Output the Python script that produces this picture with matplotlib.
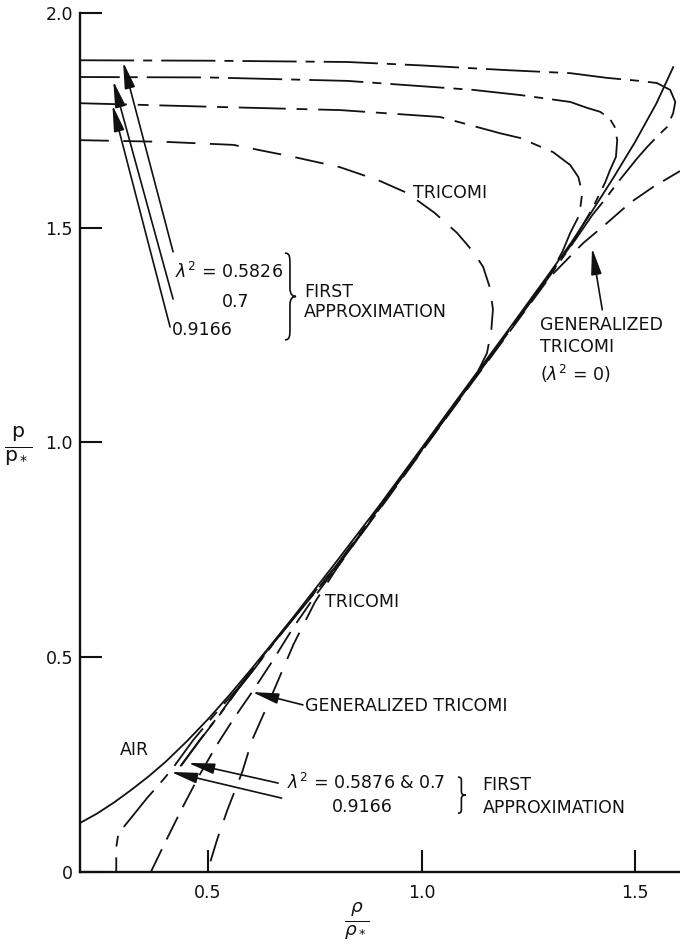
#!/usr/bin/env python3
"""Pressure-density curves: air vs Tricomi / first approximation gases."""

import matplotlib
matplotlib.use("Agg")
import matplotlib.pyplot as plt
from matplotlib.path import Path
import matplotlib.patches as patches

# ---- data (rho/rho*, p/p*) ----
air_x = [0.20, 0.24, 0.28, 0.32, 0.36, 0.40, 0.45, 0.50, 0.55, 0.60, 0.65, 0.70,
         0.75, 0.80, 0.90, 1.00, 1.10, 1.20, 1.30, 1.35, 1.40, 1.45, 1.50, 1.55, 1.59]
air_y = [0.114, 0.136, 0.162, 0.191, 0.222, 0.256, 0.304, 0.356, 0.412, 0.471, 0.532, 0.594,
         0.658, 0.722, 0.852, 0.987, 1.123, 1.258, 1.395, 1.465, 1.540, 1.618, 1.700, 1.790, 1.876]

tricomi_x = [0.20, 0.40, 0.559, 0.70, 0.809, 0.90, 0.966, 1.03, 1.083, 1.12, 1.144, 1.160,
             1.167, 1.163, 1.153, 1.130, 1.10, 1.00, 0.90, 0.85, 0.80, 0.75, 0.70, 0.64,
             0.603, 0.58, 0.545, 0.521, 0.498]
tricomi_y = [1.704, 1.700, 1.693, 1.665, 1.641, 1.610, 1.581, 1.535, 1.488, 1.445, 1.409, 1.360,
             1.310, 1.260, 1.208, 1.162, 1.117, 0.981, 0.844, 0.775, 0.705, 0.628, 0.530, 0.390,
             0.307, 0.233, 0.144, 0.075, 0.0]

gen_tricomi_x = [0.366, 0.40, 0.44, 0.48, 0.52, 0.56, 0.603, 0.65, 0.70, 0.75, 0.80, 0.90,
                 1.00, 1.10, 1.20, 1.30, 1.378, 1.434, 1.488, 1.542, 1.605]
gen_tricomi_y = [0.0, 0.070, 0.150, 0.226, 0.295, 0.357, 0.419, 0.490, 0.570, 0.642, 0.708, 0.842,
                 0.979, 1.115, 1.250, 1.385, 1.464, 1.511, 1.558, 1.595, 1.632]

# first approximation, lambda^2 = 0.5826
fa1_x = [0.20, 0.50, 0.826, 1.00, 1.20, 1.348, 1.434, 1.51, 1.551, 1.582, 1.594, 1.589,
         1.575, 1.551, 1.528, 1.505, 1.458, 1.434, 1.40, 1.35, 1.30, 1.20, 1.10, 1.00,
         0.90, 0.80, 0.70, 0.65, 0.61, 0.57, 0.53, 0.481, 0.435]
fa1_y = [1.890, 1.889, 1.886, 1.878, 1.867, 1.860, 1.849, 1.842, 1.837, 1.821, 1.793, 1.767,
         1.735, 1.712, 1.688, 1.662, 1.604, 1.572, 1.530, 1.458, 1.388, 1.252, 1.117, 0.981,
         0.845, 0.711, 0.590, 0.528, 0.475, 0.425, 0.370, 0.307, 0.245]

# first approximation, lambda^2 = 0.7
fa2_x = [0.20, 0.50, 0.826, 1.121, 1.231, 1.348, 1.388, 1.418, 1.440, 1.452, 1.458, 1.455,
         1.441, 1.430, 1.40, 1.35, 1.30, 1.20, 1.10, 1.00, 0.90, 0.80, 0.70, 0.65, 0.61,
         0.57, 0.53, 0.481, 0.435]
fa2_y = [1.851, 1.850, 1.842, 1.821, 1.809, 1.793, 1.779, 1.770, 1.755, 1.735, 1.704, 1.665,
         1.634, 1.606, 1.545, 1.460, 1.390, 1.254, 1.119, 0.983, 0.847, 0.712, 0.591, 0.529,
         0.476, 0.426, 0.371, 0.308, 0.246]

# first approximation, lambda^2 = 0.9166
fa3_x = [0.20, 0.535, 0.809, 1.043, 1.184, 1.231, 1.308, 1.348, 1.367, 1.376, 1.372, 1.367,
         1.348, 1.33, 1.30, 1.20, 1.10, 1.00, 0.90, 0.80, 0.70, 0.65, 0.61, 0.57, 0.52,
         0.465, 0.416, 0.395, 0.357, 0.31, 0.29, 0.285, 0.285]
fa3_y = [1.790, 1.781, 1.774, 1.758, 1.720, 1.709, 1.676, 1.646, 1.618, 1.581, 1.550, 1.525,
         1.488, 1.445, 1.390, 1.254, 1.119, 0.983, 0.847, 0.713, 0.592, 0.530, 0.480, 0.428,
         0.372, 0.307, 0.240, 0.215, 0.172, 0.114, 0.090, 0.058, 0.0]

x_ticks = [0.5, 1.0, 1.5]
x_tick_labels = ["0.5", "1.0", "1.5"]
y_ticks = [0.0, 0.5, 1.0, 1.5, 2.0]
y_tick_labels = ["0", "0.5", "1.0", "1.5", "2.0"]

INK = "#111111"
FONT = "DejaVu Sans"
FS = 12.5


def brace(ax, x0, w, yt, yb):
    """Draw a right curly brace '}' between yt and yb."""
    h = yt - yb
    ym = (yt + yb) / 2
    xm = x0 + 0.45 * w
    verts = [
        (x0, yt),
        (xm, yt), (xm, yt - 0.05 * h), (xm, yt - 0.14 * h),
        (xm, ym + 0.10 * h),
        (xm, ym + 0.02 * h), (x0 + 0.7 * w, ym), (x0 + w, ym),
        (x0 + 0.7 * w, ym), (xm, ym - 0.02 * h), (xm, ym - 0.10 * h),
        (xm, yb + 0.14 * h),
        (xm, yb + 0.05 * h), (xm, yb), (x0, yb),
    ]
    codes = [Path.MOVETO,
             Path.CURVE4, Path.CURVE4, Path.CURVE4,
             Path.LINETO,
             Path.CURVE4, Path.CURVE4, Path.CURVE4,
             Path.CURVE4, Path.CURVE4, Path.CURVE4,
             Path.LINETO,
             Path.CURVE4, Path.CURVE4, Path.CURVE4]
    ax.add_patch(patches.PathPatch(Path(verts, codes), fill=False,
                                   lw=1.2, edgecolor=INK, clip_on=False))


def arrow(ax, tip, tail):
    ax.annotate("", xy=tip, xytext=tail,
                arrowprops=dict(arrowstyle="-|>,head_length=1.6,head_width=0.32",
                                lw=1.2, color=INK, mutation_scale=10,
                                shrinkA=0, shrinkB=0))


def main():
    plt.rcParams["font.family"] = [FONT]
    plt.rcParams["mathtext.fontset"] = "dejavusans"

    fig = plt.figure(figsize=(6.8, 9.44), dpi=100)
    ax = fig.add_axes([0.1176, 0.0763, 0.8824, 0.9099])

    ax.plot(air_x, air_y, color=INK, lw=1.3, solid_capstyle="butt")
    ax.plot(tricomi_x, tricomi_y, color=INK, lw=1.3, linestyle=(0, (16, 8)))
    ax.plot(gen_tricomi_x, gen_tricomi_y, color=INK, lw=1.3, linestyle=(0, (14, 6)))
    ax.plot(fa1_x, fa1_y, color=INK, lw=1.3, linestyle=(0, (30, 5, 5, 5)))
    ax.plot(fa2_x, fa2_y, color=INK, lw=1.3, linestyle=(8, (30, 5, 5, 5)))
    ax.plot(fa3_x, fa3_y, color=INK, lw=1.3, linestyle=(0, (26, 6, 6, 6)))

    ax.set_xlim(0.2, 1.605)
    ax.set_ylim(0.0, 2.0)
    for side in ("top", "right"):
        ax.spines[side].set_visible(False)
    for side in ("left", "bottom"):
        ax.spines[side].set_linewidth(1.7)
        ax.spines[side].set_color(INK)

    ax.set_xticks(x_ticks)
    ax.set_xticklabels(x_tick_labels)
    ax.set_yticks(y_ticks)
    ax.set_yticklabels(y_tick_labels)
    ax.tick_params(direction="in", length=16, width=1.5, color=INK,
                   labelsize=FS, labelcolor=INK)
    ax.tick_params(axis="x", pad=9)
    ax.tick_params(axis="y", pad=5)

    # axis labels as fractions
    fig.text(0.027, 0.527, r"$\frac{\mathrm{p}}{\mathrm{p}_*}$", fontsize=21,
             ha="center", va="center", color=INK)
    fig.text(0.525, 0.024, r"$\frac{\rho}{\rho_*}$", fontsize=19,
             ha="center", va="center", color=INK)

    txt = dict(fontsize=FS, color=INK, va="center", ha="left")

    # upper-left label group
    ax.text(0.422, 1.397, r"$\lambda^2$ = 0.5826", **txt)
    ax.text(0.532, 1.327, "0.7", **txt)
    ax.text(0.415, 1.262, "0.9166", **txt)
    brace(ax, 0.680, 0.026, 1.441, 1.239)
    ax.text(0.725, 1.351, "FIRST", **txt)
    ax.text(0.725, 1.303, "APPROXIMATION", **txt)
    arrow(ax, (0.301, 1.886), (0.418, 1.444))
    arrow(ax, (0.278, 1.842), (0.418, 1.334))
    arrow(ax, (0.276, 1.786), (0.411, 1.269))

    ax.text(0.98, 1.581, "TRICOMI", **txt)

    # generalized Tricomi (upper right)
    ax.text(1.277, 1.274, "GENERALIZED", **txt)
    ax.text(1.277, 1.222, "TRICOMI", **txt)
    ax.text(1.277, 1.160, r"($\lambda^2$ = 0)", **txt)
    arrow(ax, (1.399, 1.453), (1.423, 1.309))

    # lower labels
    ax.text(0.294, 0.284, "AIR", **txt)
    ax.text(0.774, 0.629, "TRICOMI", **txt)
    ax.text(0.727, 0.386, "GENERALIZED TRICOMI", **txt)
    arrow(ax, (0.603, 0.419), (0.722, 0.389))

    ax.text(0.685, 0.207, r"$\lambda^2$ = 0.5876 & 0.7", **txt)
    ax.text(0.790, 0.151, "0.9166", **txt)
    brace(ax, 1.085, 0.018, 0.221, 0.137)
    ax.text(1.143, 0.203, "FIRST", **txt)
    ax.text(1.143, 0.149, "APPROXIMATION", **txt)
    arrow(ax, (0.453, 0.254), (0.664, 0.207))
    arrow(ax, (0.413, 0.233), (0.672, 0.172))

    fig.savefig("out.png", dpi=100)


if __name__ == "__main__":
    main()
